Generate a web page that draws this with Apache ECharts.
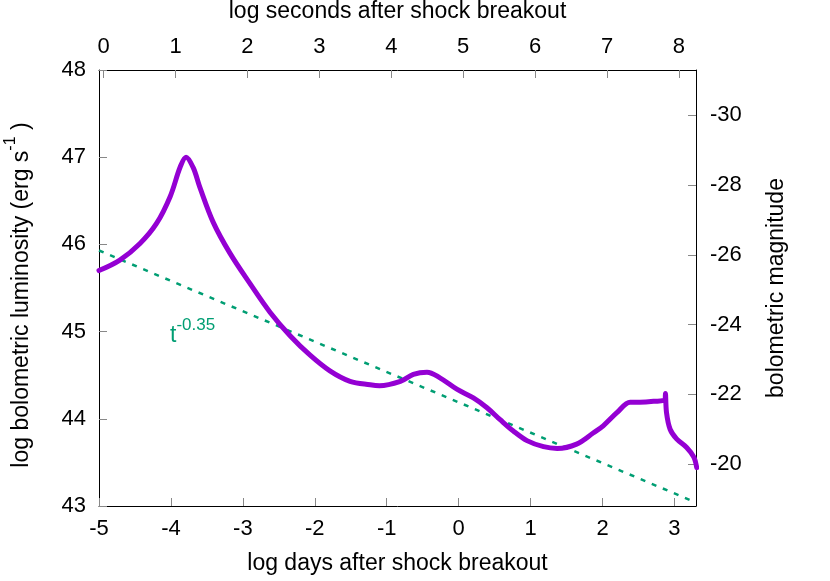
<!DOCTYPE html>
<html>
<head>
<meta charset="utf-8">
<script src="https://cdn.jsdelivr.net/npm/echarts@6/dist/echarts.min.js"></script>
<style>
html, body { margin: 0; padding: 0; background: #fff; }
#chart { width: 830px; height: 581px; }
</style>
</head>
<body>
<div id="chart"></div>
<script>
// light curve: log days after breakout vs log L_bol
var logDays = [-5.0, -4.71, -4.43, -4.20, -4.01, -3.87, -3.79, -3.69, -3.60, -3.41,
    -3.18, -2.90, -2.62, -2.34, -2.065, -1.79, -1.51, -1.23, -1.10, -0.81,
    -0.63, -0.44, -0.26, -0.025, 0.205, 0.39, 0.577, 0.76, 0.95, 1.18,
    1.37, 1.64, 1.875, 2.01, 2.20, 2.385, 2.52, 2.71, 2.87, 2.875,
    2.89, 2.94, 3.03, 3.17, 3.27, 3.31];
var logLum = [45.70, 45.82, 46.01, 46.24, 46.55, 46.89, 47.00, 46.88, 46.66, 46.25,
    45.90, 45.55, 45.22, 44.95, 44.73, 44.55, 44.43, 44.39, 44.38, 44.43,
    44.51, 44.535, 44.47, 44.34, 44.24, 44.13, 43.99, 43.86, 43.75, 43.68,
    43.66, 43.71, 43.84, 43.92, 44.07, 44.19, 44.19, 44.20, 44.22, 44.29,
    44.07, 43.88, 43.77, 43.67, 43.56, 43.44];

// t^-0.35 guide line, end points
var fitDays = [-5, 3.3];
var fitLum = [45.93, 43.04];

var dayTicks = [-5, -4, -3, -2, -1, 0, 1, 2, 3];
var secTicks = [0, 1, 2, 3, 4, 5, 6, 7, 8];
var lumTicks = [43, 44, 45, 46, 47, 48];
var magTicks = [-30, -28, -26, -24, -22, -20];

var dayRange = [-5, 3.3];
var lumRange = [43, 48];
var magRange = [-31.3, -18.8];
var secOffset = Math.log10(86400);

var FONT = '"Liberation Sans", Arial, Helvetica, sans-serif';

var curve = [];
for (var i = 0; i < logDays.length; i++) curve.push([logDays[i], logLum[i]]);
var fit = [];
for (var j = 0; j < fitDays.length; j++) fit.push([fitDays[j], fitLum[j]]);

var tickStyle = { inside: true, length: 8, lineStyle: { color: '#888', width: 1 } };
var lineStyle = { show: true, onZero: false, lineStyle: { color: '#000', width: 1 } };
var labelBase = { color: '#000', fontSize: 22, fontFamily: FONT };

var chart = echarts.init(document.getElementById('chart'));
var option = {
    animation: false,
    backgroundColor: '#fff',
    grid: { left: 99, right: 134, top: 70, bottom: 75, containLabel: false },
    xAxis: [
        {
            type: 'value', position: 'bottom',
            min: dayRange[0], max: dayRange[1],
            axisLine: lineStyle,
            axisTick: Object.assign({ customValues: dayTicks }, tickStyle),
            axisLabel: Object.assign({ customValues: dayTicks, margin: 12 }, labelBase),
            splitLine: { show: false }
        },
        {
            type: 'value', position: 'top',
            min: dayRange[0] + secOffset, max: dayRange[1] + secOffset,
            axisLine: lineStyle,
            axisTick: Object.assign({ customValues: secTicks }, tickStyle),
            axisLabel: Object.assign({ customValues: secTicks, margin: 12 }, labelBase),
            splitLine: { show: false }
        }
    ],
    yAxis: [
        {
            type: 'value', position: 'left',
            min: lumRange[0], max: lumRange[1],
            axisLine: lineStyle,
            axisTick: Object.assign({ customValues: lumTicks }, tickStyle),
            axisLabel: Object.assign({ customValues: lumTicks, margin: 13 }, labelBase),
            splitLine: { show: false }
        },
        {
            type: 'value', position: 'right', inverse: true,
            min: magRange[0], max: magRange[1],
            axisLine: lineStyle,
            axisTick: Object.assign({ customValues: magTicks }, tickStyle),
            axisLabel: Object.assign({ customValues: magTicks, margin: 14 }, labelBase),
            splitLine: { show: false }
        }
    ],
    series: [
        {
            name: 'fit', type: 'line', xAxisIndex: 0, yAxisIndex: 0,
            data: fit, symbol: 'none', silent: true,
            lineStyle: { color: '#009e73', width: 2.5, type: [5, 7] },
            z: 2
        },
        {
            name: 'L_bol', type: 'line', xAxisIndex: 0, yAxisIndex: 0,
            data: curve, symbol: 'none', smooth: 0.35, silent: true,
            lineStyle: { color: '#9400d3', width: 5, cap: 'round', join: 'round' },
            z: 3
        }
    ],
    graphic: [
        {
            type: 'text', x: 397.5, y: 12,
            style: { text: 'log seconds after shock breakout', font: '23px ' + FONT, fill: '#000',
                textAlign: 'center', textVerticalAlign: 'middle' }
        },
        {
            type: 'text', x: 397.5, y: 564,
            style: { text: 'log days after shock breakout', font: '23px ' + FONT, fill: '#000',
                textAlign: 'center', textVerticalAlign: 'middle' }
        },
        {
            type: 'text', x: 777, y: 288, rotation: Math.PI / 2,
            style: { text: 'bolometric magnitude', font: '23px ' + FONT, fill: '#000',
                textAlign: 'center', textVerticalAlign: 'middle' }
        },
        {
            type: 'text', x: 18, y: 295, rotation: Math.PI / 2,
            style: {
                text: '{a|log bolometric luminosity (erg s}{b|-1}{a| )}',
                textAlign: 'center', textVerticalAlign: 'middle', fill: '#000',
                rich: {
                    a: { fontSize: 23, fontFamily: FONT, fill: '#000', lineHeight: 30, verticalAlign: 'bottom' },
                    b: { fontSize: 16, fontFamily: FONT, fill: '#000', lineHeight: 30, verticalAlign: 'top' }
                }
            }
        },
        {
            type: 'text', x: 170, y: 332,
            style: {
                text: '{a|t}{b|-0.35}',
                textAlign: 'left', textVerticalAlign: 'middle', fill: '#009e73',
                rich: {
                    a: { fontSize: 23, fontFamily: FONT, fill: '#009e73', lineHeight: 30, verticalAlign: 'bottom' },
                    b: { fontSize: 17, fontFamily: FONT, fill: '#009e73', lineHeight: 30, verticalAlign: 'top' }
                }
            }
        }
    ]
};
chart.setOption(option);
</script>
</body>
</html>
